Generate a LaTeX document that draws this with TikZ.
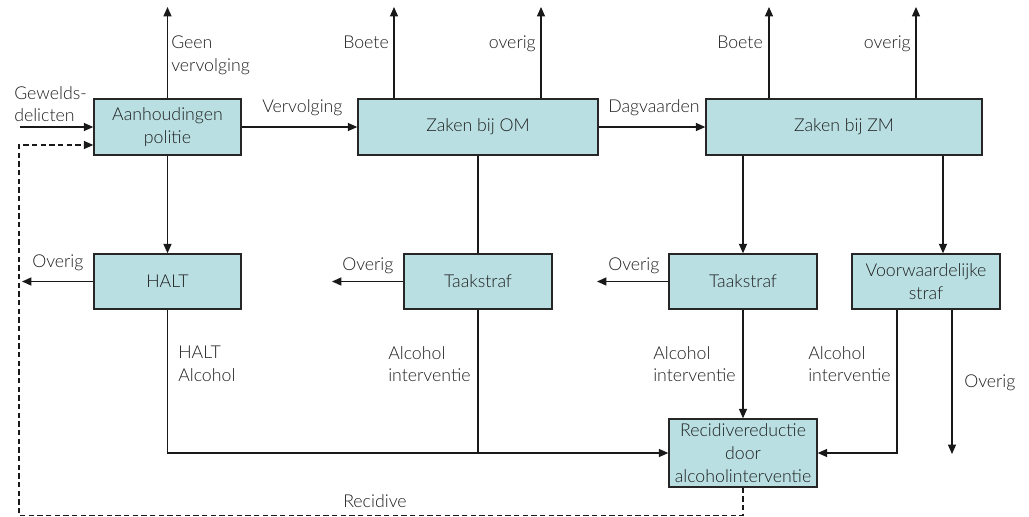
\documentclass[tikz,border=0pt]{standalone}
\usepackage{fontspec}
\setmainfont{Lato}[UprightFont=* Light]
\usetikzlibrary{arrows.meta}
\definecolor{boxfill}{HTML}{B9DFE2}
\definecolor{txt}{HTML}{1E1E1E}
\begin{document}
\begin{tikzpicture}[x=0.75pt,y=-0.75pt,
  box/.style={draw=black!85, line width=1.1pt, fill=boxfill, align=center, inner sep=0pt, text=txt, font=\fontsize{13.3}{17}\selectfont},
  lab/.style={inner sep=0pt, align=left, text=txt, font=\fontsize{13.3}{17}\selectfont},
  arr/.style={-{Triangle[length=7pt,width=6pt]}},
  ln/.style={line width=0.9pt, draw=black!90},
  dsh/.style={line width=0.9pt, draw=black!90, dash pattern=on 4pt off 2.5pt}
]
\useasboundingbox (0,0) rectangle (1029,517);
% boxes
\node[box, minimum width=110.25pt, minimum height=42pt] (A) at (167.5,127) {Aanhoudingen\\politie};
\node[box, minimum width=180pt, minimum height=42pt] (OM) at (478,127) {Zaken bij OM};
\node[box, minimum width=207pt, minimum height=42pt] (ZM) at (844,127) {Zaken bij ZM};
\node[box, minimum width=110.25pt, minimum height=41.25pt] (H) at (167.5,281.5) {HALT};
\node[box, minimum width=111pt, minimum height=41.25pt] (T1) at (478,281.5) {Taakstraf};
\node[box, minimum width=111pt, minimum height=41.25pt] (T2) at (743,281.5) {Taakstraf};
\node[box, minimum width=111pt, minimum height=41.25pt] (V) at (926,281.5) {Voorwaardelijke\\straf};
\node[box, minimum width=111pt, minimum height=51pt] (R) at (743,453) {Recidivereductie\\door\\alcoholinterventie};
% helper coordinates
\coordinate (topy) at (0,7);
\coordinate (gin) at (20,127);
\coordinate (ya) at (0,145);
\coordinate (dl) at (19,515.5);
\coordinate (hov) at (22,281.5);
\coordinate (t1ov) at (332,281.5);
\coordinate (t2ov) at (597,281.5);
\coordinate (omb) at (394,0);
\coordinate (omo) at (541,0);
\coordinate (zmb) at (769,0);
\coordinate (zmo) at (916,0);
\coordinate (xv) at (943,0);
\coordinate (xva) at (897,0);
\coordinate (vov) at (952,454);
% connectors
\draw[ln,arr] (gin) -- (A.west |- gin);
\draw[dsh,arr] (R.south) -- (R.south |- dl) -- (dl) -- (dl |- ya) -- (A.west |- ya);
\draw[ln,arr] (A.north) -- (A.north |- topy);
\draw[ln,arr] (A.east) -- (OM.west);
\draw[ln,arr] (A.south) -- (H.north);
\draw[ln,arr] (H.west) -- (hov);
\draw[ln,arr] (H.south) |- (R.west);
\draw[ln] (OM.south) -- (T1.north);
\draw[ln] (T1.south) -- (T1.south |- R.west);
\draw[ln,arr] (T1.west) -- (t1ov);
\draw[ln,arr] (OM.north -| omb) -- (omb |- topy);
\draw[ln,arr] (OM.north -| omo) -- (omo |- topy);
\draw[ln,arr] (OM.east) -- (ZM.west);
\draw[ln,arr] (ZM.north -| zmb) -- (zmb |- topy);
\draw[ln,arr] (ZM.north -| zmo) -- (zmo |- topy);
\draw[ln,arr] (ZM.south -| T2.north) -- (T2.north);
\draw[ln,arr] (ZM.south -| xv) -- (V.north -| xv);
\draw[ln,arr] (T2.west) -- (t2ov);
\draw[ln,arr] (T2.south) -- (R.north);
\draw[ln,arr] (V.south -| xva) |- (R.east);
\draw[ln,arr] (V.south -| vov) -- (vov);
% labels
\node[lab, anchor=north west] (lgw) at (14,86) {Gewelds-\\delicten};
\node[lab, anchor=north west] (lgv) at (171,36) {Geen\\vervolging};
\node[lab, anchor=north west] (lvv) at (262,99) {Vervolging};
\node[lab, anchor=north east] (lb1) at (389,36) {Boete};
\node[lab, anchor=north east] (lo1) at (536,36) {overig};
\node[lab, anchor=north west] (ldv) at (608,99) {Dagvaarden};
\node[lab, anchor=north east] (lb2) at (763,36) {Boete};
\node[lab, anchor=north east] (lo2) at (911,36) {overig};
\node[lab, anchor=north west] (lho) at (32,255) {Overig};
\node[lab, anchor=north west] (l1o) at (342,258) {Overig};
\node[lab, anchor=north west] (l2o) at (608,258) {Overig};
\node[lab, anchor=north west] (lha) at (178,346) {HALT\\Alcohol};
\node[lab, anchor=north west] (l1a) at (388,346) {Alcohol\\interventie};
\node[lab, anchor=north west] (l2a) at (653,346) {Alcohol\\interventie};
\node[lab, anchor=north west] (lva) at (808,346) {Alcohol\\interventie};
\node[lab, anchor=north west] (lvo) at (964,375) {Overig};
\node[lab, anchor=north west] (lrc) at (343,494) {Recidive};
\end{tikzpicture}
\end{document}
